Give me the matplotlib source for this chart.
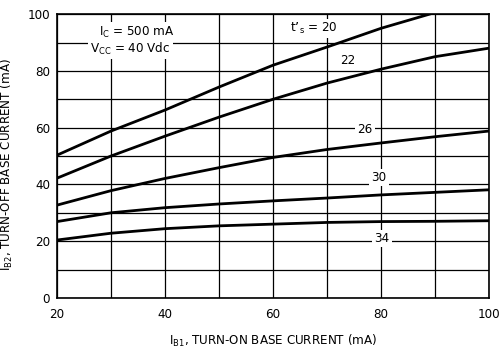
import numpy as np
import matplotlib
matplotlib.use("Agg")
import matplotlib.pyplot as plt

plt.rcParams['font.family'] = ['DejaVu Sans']
plt.rcParams['font.stretch'] = 'condensed'

# I_B1 (mA) sample points
ib1 = [20, 30, 40, 50, 60, 70, 80, 90, 100]

# I_B2 (mA) for each t's curve
ts20_x = [20, 30, 40, 50, 60, 70, 80, 89]
ts20_y = [50.3, 58.8, 66.2, 74.3, 82.0, 88.4, 95.0, 100.0]
ts22_y = [42.2, 50.0, 57.0, 63.7, 70.0, 75.7, 80.6, 85.0, 88.0]
ts26_y = [32.7, 37.8, 42.1, 45.9, 49.5, 52.3, 54.6, 56.8, 58.8]
ts30_y = [26.9, 30.0, 31.8, 33.1, 34.2, 35.2, 36.3, 37.2, 38.1]
ts34_y = [20.4, 22.8, 24.4, 25.4, 26.0, 26.6, 26.9, 27.0, 27.2]

labels = ["t\u2019$_\\mathrm{s}$ = 20", "22", "26", "30", "34"]
label_pos = [(67.6, 95.0), (73.9, 83.8), (77.0, 59.5), (79.6, 42.3), (80.2, 21.0)]

fig = plt.figure(figsize=(5.0, 3.53), dpi=100)
ax = fig.add_axes([0.114, 0.156, 0.864, 0.804])

ax.set_xlim(20, 100)
ax.set_ylim(0, 100)
ax.set_xticks(np.arange(20, 101, 10), minor=True)
ax.set_yticks(np.arange(0, 101, 10), minor=True)
ax.set_xticks([20, 40, 60, 80, 100])
ax.set_yticks([0, 20, 40, 60, 80, 100])
ax.grid(True, which='both', color='black', linewidth=0.9)
ax.tick_params(which='both', length=0, labelsize=9.5, colors='black')
ax.tick_params(axis='x', pad=7)
ax.tick_params(axis='y', pad=5)
for s in ax.spines.values():
    s.set_linewidth(1.2)

lw = 2.0
ax.plot(ts20_x, ts20_y, color='black', linewidth=lw, zorder=3)
for y in [ts22_y, ts26_y, ts30_y, ts34_y]:
    ax.plot(ib1, y, color='black', linewidth=lw, zorder=3)

box = dict(facecolor='white', edgecolor='none', pad=1.5)
for txt, (x, y) in zip(labels, label_pos):
    ax.text(x, y, txt, ha='center', va='center', fontsize=9.5, bbox=box, zorder=4)

ax.text(34.8, 93.7, "I$_\\mathrm{C}$ = 500 mA", ha='center', va='center',
        fontsize=9.5, bbox=box, zorder=4)
ax.text(33.6, 87.7, "V$_\\mathrm{CC}$ = 40 Vdc", ha='center', va='center',
        fontsize=9.5, bbox=box, zorder=4)

ax.set_xlabel("I$_\\mathrm{B1}$, TURN-ON BASE CURRENT (mA)", fontsize=9.5, labelpad=9)
ax.set_ylabel("I$_\\mathrm{B2}$, TURN-OFF BASE CURRENT (mA)", fontsize=9.5)
ax.yaxis.set_label_coords(-0.098, 0.47)

fig.savefig("out.png", dpi=100)
